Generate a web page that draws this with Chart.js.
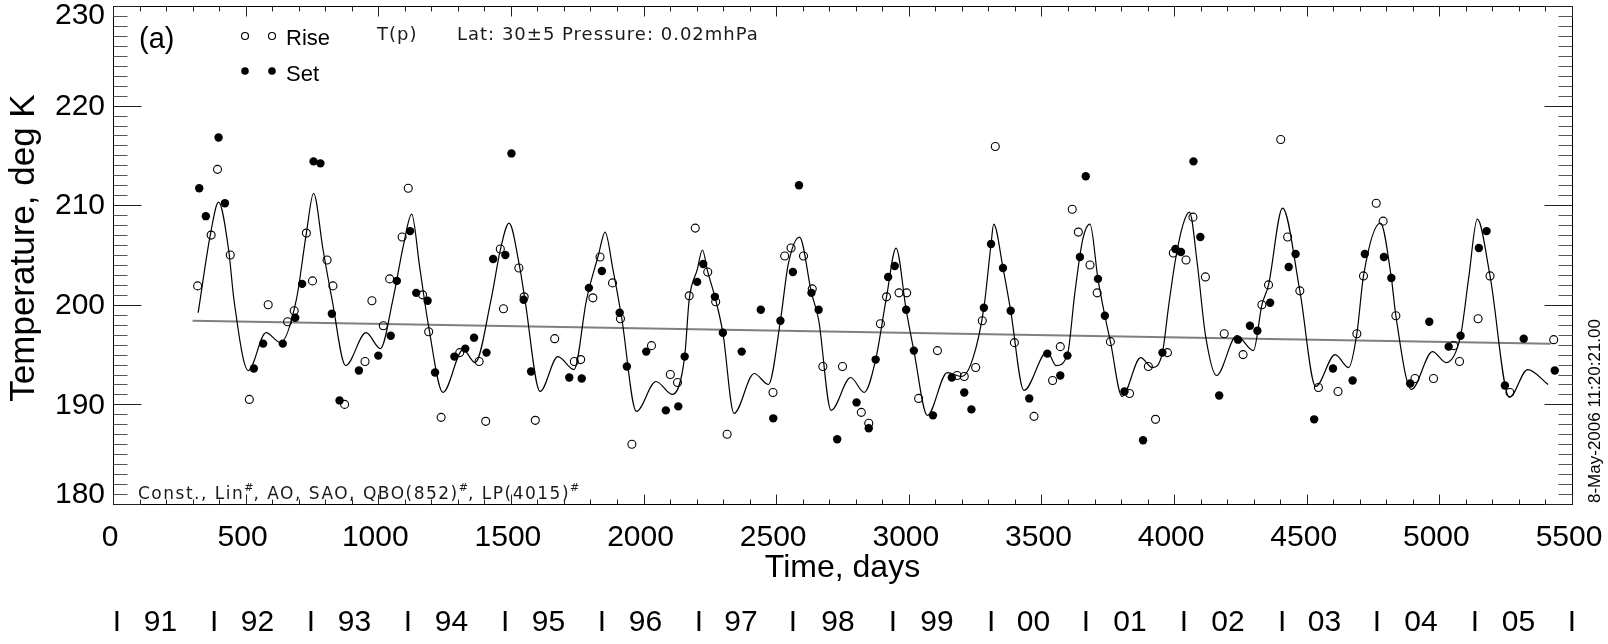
<!DOCTYPE html>
<html>
<head>
<meta charset="utf-8">
<script src="https://cdn.jsdelivr.net/npm/chart.js@4.4.1/dist/chart.umd.min.js"></script>
<style>
  html, body { margin: 0; padding: 0; background: #fff; }
  #wrap { position: relative; width: 1608px; height: 644px; }
</style>
</head>
<body>
<div id="wrap"><canvas id="chart" width="1608" height="644"></canvas></div>
<script>
// ---- data (time in days, temperature in K) ----
const riseDays = [319,370,394,442,514,585,658,683,729,752,807,829,873,950,976,1019,1043,1090,1113,1167,1190,1237,1307,1380,1405,1460,1472,1530,1550,1592,1665,1739,1763,1809,1836,1883,1913,1956,2030,2101,2128,2172,2195,2242,2272,2315,2488,2532,2556,2603,2636,2676,2750,2821,2849,2893,2916,2963,2992,3037,3108,3182,3209,3252,3277,3326,3398,3472,3542,3571,3616,3639,3683,3710,3760,3832,3903,3930,3975,3997,4045,4071,4118,4189,4260,4331,4356,4402,4428,4474,4544,4618,4689,4714,4762,4788,4836,4908,4978,5054,5076,5146,5191,5266,5431];
const riseTemps = [201.9,207.0,213.6,205.0,190.5,200.0,198.3,199.4,207.2,202.4,204.5,201.9,190.0,194.3,200.4,197.9,202.6,206.8,211.7,201.0,197.3,188.7,195.2,194.3,188.3,205.6,199.6,203.7,200.8,188.4,196.6,194.3,194.5,200.7,204.8,202.2,198.6,186.0,195.9,193.0,192.2,200.9,207.7,203.3,200.3,187.0,191.2,204.9,205.7,204.9,201.6,193.8,193.8,189.2,188.1,198.1,200.8,201.2,201.2,190.6,195.4,192.9,192.8,193.7,198.4,215.9,196.2,188.8,192.4,195.8,209.6,207.3,204.0,201.2,196.3,191.1,193.8,188.5,195.2,205.2,204.5,208.8,202.8,197.1,195.0,200.0,202.0,216.6,206.8,201.4,191.7,191.3,197.1,202.9,210.2,208.4,198.9,192.6,192.6,195.9,194.3,198.6,202.9,191.2,196.5];

const setDays = [325,350,398,422,531,566,640,687,713,756,782,825,854,927,1000,1047,1070,1120,1143,1186,1214,1287,1328,1361,1408,1433,1479,1502,1548,1576,1720,1767,1794,1843,1910,1937,2010,2084,2131,2155,2202,2225,2269,2299,2370,2442,2489,2516,2563,2586,2633,2660,2730,2803,2849,2875,2922,2947,2990,3019,3091,3162,3209,3236,3283,3310,3355,3384,3454,3522,3571,3598,3645,3667,3713,3739,3813,3883,3956,4005,4026,4073,4099,4170,4241,4286,4314,4362,4432,4458,4528,4599,4673,4719,4791,4819,4890,4962,5035,5080,5149,5178,5247,5318,5435];
const setTemps = [211.7,208.9,216.8,210.2,193.6,196.1,196.1,198.7,202.1,214.4,214.2,199.1,190.4,193.4,194.9,196.9,202.4,207.4,201.2,200.4,193.2,194.8,195.6,196.7,195.2,204.6,205.0,215.2,200.5,193.3,192.7,192.6,201.7,203.4,199.2,193.8,195.3,189.4,189.8,194.8,202.3,204.1,200.8,197.2,195.3,199.5,188.6,198.4,203.3,212.0,201.2,199.5,186.5,190.2,187.6,194.5,202.8,203.9,199.5,195.4,188.9,192.7,191.2,189.5,199.7,206.1,203.7,199.4,190.6,195.1,192.9,194.9,204.8,212.9,202.6,198.9,191.3,186.4,195.2,205.6,205.3,214.4,206.8,190.9,196.5,197.9,197.4,200.2,203.8,205.1,188.5,193.6,192.4,205.1,204.8,202.7,192.1,198.3,195.8,196.9,205.7,207.4,191.9,196.6,193.4];

// fitted curve (Const., Lin, AO, SAO, QBO, LP), sampled along the drawn line
const fitDays = [321,368,398,436,456,510,577,631,691,729,756,792,826,877,954,1008,1055,1095,1126,1156,1190,1244,1320,1365,1425,1460,1493,1533,1553,1610,1677,1738,1785,1830,1855,1885,1917,1973,2047,2108,2155,2172,2202,2222,2242,2269,2299,2341,2417,2471,2516,2545,2588,2633,2660,2707,2781,2832,2875,2916,2952,2990,3019,3070,3145,3198,3240,3283,3310,3320,3355,3384,3434,3522,3555,3598,3625,3655,3683,3713,3739,3760,3804,3874,3918,3956,3980,4005,4033,4058,4088,4118,4160,4236,4299,4331,4356,4409,4474,4534,4607,4658,4689,4714,4778,4819,4836,4895,4974,5026,5080,5111,5143,5191,5264,5333,5410];
const fitTemps = [199.2,207.2,210.3,205.5,200.5,193.4,197.2,196.2,200.5,207.2,211.2,205.5,200.5,193.9,197.2,195.6,200.5,206.0,209.1,203.8,197.8,191.2,195.5,194.2,200.5,205.5,208.2,203.8,200.5,191.3,194.8,193.5,200.5,205.0,207.3,203.5,198.8,189.3,192.3,191.0,194.8,200.5,203.5,205.5,203.3,200.8,197.2,189.1,193.1,192.0,198.4,204.0,206.8,201.2,198.5,189.4,192.7,191.2,194.5,200.8,205.7,199.5,195.4,188.9,193.2,192.8,194.5,199.7,206.1,208.1,203.7,199.4,191.4,195.3,193.9,195.0,201.0,206.5,208.1,202.6,198.9,196.3,190.8,194.7,193.7,195.2,200.0,204.5,208.0,209.3,204.0,197.0,192.9,196.9,195.4,200.0,202.0,209.7,201.4,191.8,195.0,193.7,197.1,202.9,208.2,202.7,198.9,191.5,195.3,194.2,196.9,202.8,208.6,202.9,190.7,193.5,192.0];

// linear trend
const trendDays = [300, 5420];
const trendTemps = [198.4, 196.1];

// axes
const xTickLabels = [0, 500, 1000, 1500, 2000, 2500, 3000, 3500, 4000, 4500, 5000, 5500];
const yTickLabels = [180, 190, 200, 210, 220, 230];
const yearLabels = ['91','92','93','94','95','96','97','98','99','00','01','02','03','04','05'];
const yearBoundaryDays = [15, 381, 746, 1112, 1478, 1843, 2209, 2563, 2940, 3310, 3668, 4037, 4407, 4765, 5134, 5500];

const pts = (xs, ys) => xs.map((d, i) => ({ x: d, y: ys[i] }));

const SANS = '"Liberation Sans", Arial, Helvetica, sans-serif';
const THIN = '"DejaVu Sans", sans-serif';

// axes box, inward ticks, labels and annotations
const idlFrame = {
  id: 'idlFrame',
  afterDraw(chart) {
    const { ctx, chartArea: a, scales } = chart;
    const xs = scales.x, ys = scales.y;
    const L = Math.round(a.left) + 0.5, R = Math.round(a.right) + 0.5;
    const T = Math.round(a.top) + 0.5, B = Math.round(a.bottom) + 0.5;
    const seg = (x1, y1, x2, y2) => { ctx.beginPath(); ctx.moveTo(x1, y1); ctx.lineTo(x2, y2); ctx.stroke(); };

    ctx.save();
    ctx.strokeStyle = '#000';
    ctx.lineWidth = 1;
    ctx.strokeRect(L, T, R - L, B - T);

    // x ticks every 100 days, major every 500
    ctx.strokeStyle = '#222';
    for (let d = 0; d <= 5500; d += 100) {
      const px = Math.round(xs.getPixelForValue(d)) + 0.5;
      const len = d % 500 === 0 ? 10 : 5;
      seg(px, B, px, B - len);
      seg(px, T, px, T + len);
    }
    // y ticks every 1 K, major every 10
    for (let v = 180; v <= 230; v += 1) {
      const py = Math.round(ys.getPixelForValue(v)) + 0.5;
      const len = v % 10 === 0 ? 28 : 14;
      ctx.strokeStyle = v % 10 === 0 ? '#222' : '#555';
      seg(L, py, L + len, py);
      seg(R, py, R - len, py);
    }

    // tick labels
    ctx.fillStyle = '#000';
    ctx.font = '30px ' + SANS;
    ctx.textAlign = 'right';
    ctx.textBaseline = 'middle';
    yTickLabels.forEach(v => {
      let py = ys.getPixelForValue(v);
      py = Math.min(Math.max(py, a.top + 9), a.bottom - 10);
      ctx.fillText(String(v), a.left - 8, py + 1);
    });
    ctx.textAlign = 'center';
    xTickLabels.forEach(v => {
      ctx.fillText(String(v), xs.getPixelForValue(v) - 3, 538);
    });

    // axis titles
    ctx.font = '32px ' + SANS;
    ctx.fillText('Time, days', (a.left + a.right) / 2, 568);
    ctx.save();
    ctx.translate(24, 248);
    ctx.rotate(-Math.PI / 2);
    ctx.font = '35px ' + SANS;
    ctx.fillText('Temperature, deg K', 0, 0);
    ctx.restore();

    // year row
    ctx.font = '30px ' + SANS;
    yearBoundaryDays.forEach(d => ctx.fillText('I', xs.getPixelForValue(d), 623));
    yearLabels.forEach((lab, i) => {
      const mid = (xs.getPixelForValue(yearBoundaryDays[i]) + xs.getPixelForValue(yearBoundaryDays[i + 1])) / 2;
      ctx.fillText(lab, mid - 5, 623);
    });

    // panel tag and legend
    ctx.textAlign = 'left';
    ctx.font = '29px ' + SANS;
    ctx.fillText('(a)', 139, 40);
    ctx.font = '22px ' + SANS;
    ctx.fillText('Rise', 286, 39);
    ctx.fillText('Set', 286, 75);
    ctx.lineWidth = 1.2;
    ctx.strokeStyle = '#000';
    [245, 272].forEach(cx => {
      ctx.beginPath(); ctx.arc(cx, 36, 3.5, 0, Math.PI * 2); ctx.stroke();
      ctx.beginPath(); ctx.arc(cx, 71, 3.8, 0, Math.PI * 2); ctx.fill();
    });

    // vector-font annotations
    ctx.fillStyle = '#1a1a1a';
    ctx.font = '18px ' + THIN;
    if ('letterSpacing' in ctx) ctx.letterSpacing = '1px';
    ctx.fillText('T(p)', 377, 35);
    ctx.fillText('Lat: 30\u00b15 Pressure: 0.02mhPa', 457, 35);

    const parts = [['Const., Lin', 0], ['#', 1], [', AO, SAO, QBO(852)', 0], ['#', 1], [', LP(4015)', 0], ['#', 1]];
    let tx = 138;
    ctx.textBaseline = 'alphabetic';
    parts.forEach(([s, sup]) => {
      ctx.font = (sup ? '11px ' : '17px ') + THIN;
      if ('letterSpacing' in ctx) ctx.letterSpacing = sup ? '0px' : '1.5px';
      ctx.fillText(s, tx, sup ? 491 : 499);
      tx += ctx.measureText(s).width;
    });
    if ('letterSpacing' in ctx) ctx.letterSpacing = '0px';

    // timestamp on the right
    ctx.fillStyle = '#000';
    ctx.font = '17px ' + SANS;
    ctx.save();
    ctx.translate(1600, 503);
    ctx.rotate(-Math.PI / 2);
    ctx.textAlign = 'left';
    ctx.fillText('8-May-2006 11:20:21.00', 0, 0);
    ctx.restore();

    ctx.restore();
  }
};

new Chart(document.getElementById('chart'), {
  type: 'line',
  data: {
    datasets: [
      {
        label: 'Rise',
        data: pts(riseDays, riseTemps),
        showLine: false,
        pointStyle: 'circle',
        pointRadius: 4,
        pointBorderWidth: 1.1,
        pointBorderColor: '#000',
        pointBackgroundColor: 'rgba(0,0,0,0)',
        order: 1
      },
      {
        label: 'Set',
        data: pts(setDays, setTemps),
        showLine: false,
        pointStyle: 'circle',
        pointRadius: 4.2,
        pointBorderWidth: 0,
        pointBackgroundColor: '#000',
        order: 0
      },
      {
        label: 'Fit',
        data: pts(fitDays, fitTemps),
        borderColor: '#000',
        borderWidth: 1.2,
        pointRadius: 0,
        cubicInterpolationMode: 'monotone',
        fill: false,
        order: 2
      },
      {
        label: 'Trend',
        data: pts(trendDays, trendTemps),
        borderColor: '#7f7f7f',
        borderWidth: 2,
        pointRadius: 0,
        fill: false,
        order: 3
      }
    ]
  },
  options: {
    responsive: false,
    animation: false,
    devicePixelRatio: 1,
    events: [],
    layout: { padding: { left: 113, top: 6, right: 36, bottom: 140 } },
    plugins: { legend: { display: false }, tooltip: { enabled: false } },
    scales: {
      x: { type: 'linear', min: 0, max: 5500, display: false },
      y: { type: 'linear', min: 180, max: 230, display: false }
    }
  },
  plugins: [idlFrame]
});
</script>
</body>
</html>
